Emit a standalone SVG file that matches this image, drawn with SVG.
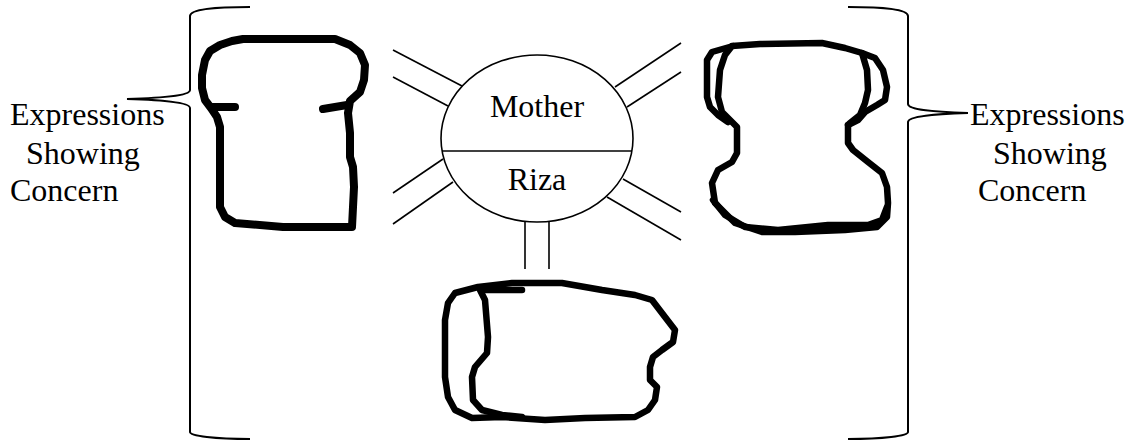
<svg xmlns="http://www.w3.org/2000/svg" width="1128" height="440" viewBox="0 0 1128 440">
  <style>
    text { font-family: 'Liberation Serif', 'Times New Roman', serif; font-size: 32px; fill: #000; }
    .thin { fill: none; stroke: #000; stroke-width: 1.6; }
    .brace { fill: none; stroke: #000; stroke-width: 2; }
    .sketch { fill: none; stroke: #000; stroke-linejoin: round; stroke-linecap: round; }
  </style>
  <rect width="1128" height="440" fill="#fff"/>

  <!-- curly brackets -->
  <g id="brace-left">
    <path class="brace" d="M250,7 C215,7 190,9 190,16 L190,90 C190,96 160,98 127,99 C160,100 190,102 190,108 L190,432 C190,436 215,439 250,439"/>
  </g>
  <g id="brace-right">
    <path class="brace" d="M848,7 C883,7 908,9 908,16 L908,104 C908,110 935,112 968,113 C935,114 908,116 908,122 L908,432 C908,436 883,439 848,439"/>
  </g>

  <!-- side labels -->
  <g id="label-left">
    <text x="10" y="125">Expressions</text>
    <text x="26" y="164">Showing</text>
    <text x="10" y="201">Concern</text>
  </g>
  <g id="label-right">
    <text x="970" y="125">Expressions</text>
    <text x="993" y="164">Showing</text>
    <text x="978" y="201">Concern</text>
  </g>

  <!-- double-line connectors radiating from the central circle -->
  <g id="connectors" class="thin">
    <line x1="393" y1="50" x2="462" y2="86"/>
    <line x1="393" y1="77" x2="448" y2="106"/>
    <line x1="615" y1="87" x2="681" y2="43"/>
    <line x1="627" y1="107" x2="681" y2="72"/>
    <line x1="443" y1="159" x2="393" y2="193"/>
    <line x1="453" y1="182" x2="393" y2="224"/>
    <line x1="623" y1="179" x2="681" y2="212"/>
    <line x1="607" y1="197" x2="681" y2="240"/>
    <line x1="525" y1="222" x2="525" y2="269"/>
    <line x1="549" y1="222" x2="549" y2="269"/>
  </g>

  <!-- central circle: Mother / Riza -->
  <g id="node-center">
    <ellipse class="thin" cx="537" cy="138.5" rx="96" ry="83.5" fill="#fff"/>
    <line class="thin" x1="442" y1="151" x2="632" y2="151"/>
    <text x="537" y="117" text-anchor="middle">Mother</text>
    <text x="537" y="190" text-anchor="middle">Riza</text>
  </g>

  <!-- hand-drawn shape, upper left -->
  <g id="shape-left" class="sketch" stroke-width="8">
    <path d="M243,39 L335,39 L350,45 L360,53 L365,65 L364,80 L360,92 L350,101 L348,113 L350,133 L350,157 L353,167 L354,187 L353,207 L352,227 L283,227 L235,223 L225,217 L220,207 L220,167 L220,127 L217,117 L211,108 L205,100 L202,88 L202,75 L205,60 L210,51 L220,45 L232,41 Z"/>
    <path d="M347,105 L323,109"/>
    <path d="M212,107 L235,107"/>
  </g>

  <!-- hand-drawn shape, upper right -->
  <g id="shape-right" class="sketch" stroke-width="6.5">
    <path d="M732,46 L760,44 L822,43 L845,48 L862,53 L867,70 L868,90 L865,103 L860,115 L850,123 L848,125 L848,143 L853,150 L868,162 L882,173 L887,187 L888,203 L887,217 L877,227 L845,230 L795,232 L762,232 L735,223 L715,203 L712,183 L718,170 L732,162 L737,153 L737,127 L728,118 L722,112 L718,97 L720,70 L725,55 Z"/>
    <path d="M862,53 L875,58 L883,70 L887,87 L885,100 L877,105 L865,112 L858,120 L848,125"/>
    <path d="M733,46 L712,52 L707,60 L707,97 L710,107 L718,115 L728,122"/>
    <path d="M887,207 L882,220 L868,225 L828,225 L778,230 L745,227 L725,215 L713,200"/>
  </g>

  <!-- hand-drawn shape, bottom -->
  <g id="shape-bottom" class="sketch" stroke-width="6.5">
    <path d="M455,293 L478,287 L512,283 L562,283 L602,290 L635,295 L652,300 L665,317 L675,330 L673,342 L662,350 L653,357 L650,367 L650,380 L657,387 L655,400 L648,410 L635,417 L585,418 L545,420 L502,417 L472,418 L455,410 L448,397 L445,377 L445,320 L448,303 Z"/>
    <path d="M480,290 L485,300 L488,337 L487,353 L475,367 L472,377 L473,400 L482,410 L502,415 L522,417"/>
    <path d="M482,290 L522,290"/>
  </g>
</svg>
